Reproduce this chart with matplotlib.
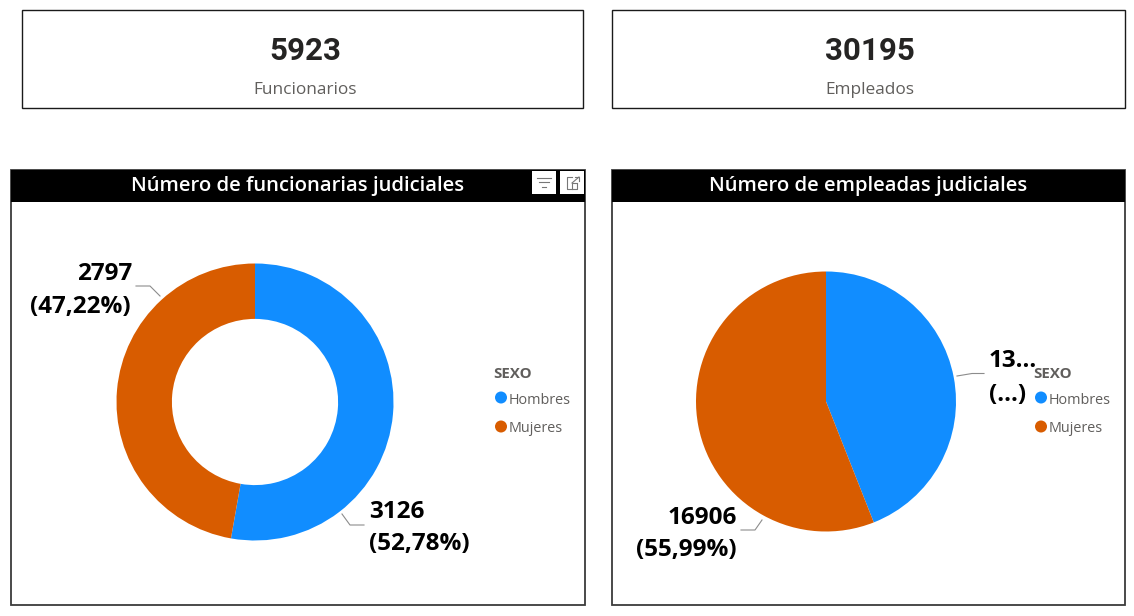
import matplotlib
matplotlib.use('Agg')
from matplotlib import pyplot as plt
from matplotlib.patches import Rectangle, Circle

W, H = 1134, 616

sexo = ['Hombres', 'Mujeres']
funcionarios = [3126, 2797]
empleados = [13289, 16906]
total_funcionarios = 5923
total_empleados = 30195
pct_funcionarios = ['52,78%', '47,22%']
colores = ['#118DFF', '#D85C00']

plt.rcParams['font.family'] = ['Open Sans', 'DejaVu Sans']

fig = plt.figure(figsize=(W / 100, H / 100), dpi=100, facecolor='white')
# overlay in pixel coords, y going down like the screenshot
ax = fig.add_axes([0, 0, 1, 1], zorder=3)
ax.set_xlim(0, W)
ax.set_ylim(H, 0)
ax.axis('off')
ax.patch.set_alpha(0)


def pie_axes(cx, cy, r):
    a = fig.add_axes([(cx - r) / W, 1 - (cy + r) / H, 2 * r / W, 2 * r / H], zorder=2)
    a.axis('off')
    return a


def fit_pie(a):
    # pie() resets the limits, so put them back afterwards
    a.set_xlim(-1, 1)
    a.set_ylim(-1, 1)


def card(x0, x1, xc, valor, nombre):
    ax.add_patch(Rectangle((x0, 10), x1 - x0, 98, fill=False, ec='#1a1a1a', lw=1.0))
    ax.text(xc, 51, str(valor), ha='center', va='center', fontsize=22.5, fontweight='bold',
            color='#252423', family=['Roboto', 'DejaVu Sans'])
    ax.text(xc, 90, nombre, ha='center', va='center', fontsize=12.4, color='#605E5C')


def panel(x0, x1, titulo):
    ax.add_patch(Rectangle((x0, 170), x1 - x0, 435, fill=False, ec='#3c3c3c', lw=1.3))
    ax.add_patch(Rectangle((x0, 170), x1 - x0, 32, fc='black', ec='none'))
    ax.text((x0 + x1) / 2, 186, titulo, ha='center', va='center', fontsize=14.6,
            fontweight='semibold', color='white')


def leyenda(x):
    ax.text(x - 1, 374, 'SEXO', ha='left', va='center', fontsize=10.8, fontweight='bold', color='#605E5C')
    for nombre, color, y in zip(sexo, colores, [400, 429]):
        ax.add_patch(Circle((x + 7, y - 2.5), 6, fc=color, ec='none'))
        ax.text(x + 15, y, nombre, ha='left', va='center', fontsize=10.4, color='#605E5C')


def etiqueta(x, y, texto, ha='left'):
    ax.text(x, y, texto, ha=ha, va='center', fontsize=17.5, fontweight='bold', color='black')


card(22, 583, 305, total_funcionarios, 'Funcionarios')
card(612, 1125, 869.5, total_empleados, 'Empleados')
panel(11, 585, 'Número de funcionarias judiciales')
panel(612, 1125, 'Número de empleadas judiciales')

# donut
a1 = pie_axes(255, 402, 138.5)
a1.pie(funcionarios, colors=colores, startangle=90, counterclock=False, radius=1,
       wedgeprops={'width': 0.4, 'linewidth': 0})
fit_pie(a1)

# pie
a2 = pie_axes(826, 401.5, 130)
a2.pie(empleados, colors=colores, startangle=90, counterclock=False, radius=1,
       wedgeprops={'linewidth': 0})
fit_pie(a2)

# leader lines
gris = '#8c8c8c'
ax.plot([136, 150, 160], [286, 286, 296], color=gris, lw=0.8)
ax.plot([342, 350, 364], [514, 525, 525], color=gris, lw=0.8)
ax.plot([957, 972, 984], [376, 373.5, 373.5], color=gris, lw=0.8)
ax.plot([762, 755, 741], [520, 530, 530], color=gris, lw=0.8)

etiqueta(132, 274, str(funcionarios[1]), ha='right')
etiqueta(131, 307, '(' + pct_funcionarios[1] + ')', ha='right')
etiqueta(369, 512, str(funcionarios[0]))
etiqueta(369, 544, '(' + pct_funcionarios[0] + ')')
etiqueta(737, 518, str(empleados[1]), ha='right')
etiqueta(737, 550, '(55,99%)', ha='right')
etiqueta(989, 361, '13...')
etiqueta(989, 395, '(...)')

leyenda(494)
leyenda(1034)

# visual header icons
for x0 in (532, 560):
    ax.add_patch(Rectangle((x0, 171), 24, 23, fc='white', ec='none'))
for y, dx in zip((177.5, 182, 186.5), (7, 5, 2)):
    ax.plot([544 - dx, 544 + dx], [y, y], color='#777777', lw=0.8)
ax.plot([572, 567, 567, 577, 577], [177, 177, 189, 189, 184], color='#777777', lw=0.8)
ax.plot([572, 572, 577], [189, 183, 183], color='#777777', lw=0.8)
ax.plot([572, 579], [183, 177], color='#777777', lw=0.8)
ax.plot([575, 579, 579], [177, 177, 181], color='#777777', lw=0.8)

fig.savefig('out.png', dpi=100, facecolor='white')
